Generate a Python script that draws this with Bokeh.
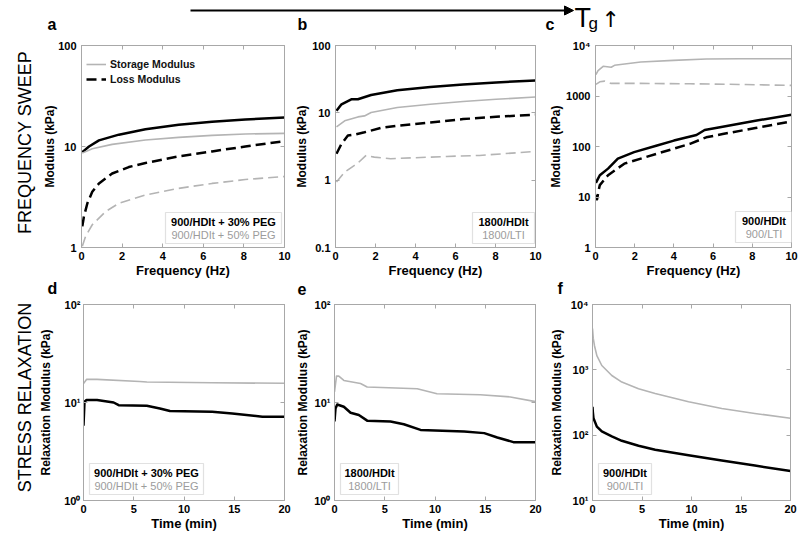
import math
from bokeh.plotting import figure
from bokeh.layouts import row, column
from bokeh.models import (Range1d, FixedTicker, LinearAxis, Legend, LegendItem, Label,
                          BoxAnnotation, Arrow, NormalHead, CustomJSTickFormatter)
from bokeh.embed import file_html
from bokeh.resources import INLINE

# ---------------- data ----------------
# panel a: frequency sweep, 900/HDIt + 30% PEG (black) vs + 50% PEG (gray)
a_storage30_f = [0.04, 0.37, 0.86, 1.84, 3.15, 4.79, 6.43, 8.07, 10]
a_storage30 = [8.8, 10.0, 11.5, 13.1, 14.8, 16.4, 17.6, 18.5, 19.4]
a_storage50_f = [0.04, 0.53, 1.51, 3.15, 4.79, 6.43, 8.07, 10]
a_storage50 = [8.6, 9.5, 10.5, 11.6, 12.3, 12.9, 13.3, 13.5]
a_loss30_f = [0.04, 0.12, 0.29, 0.53, 0.86, 1.51, 2.33, 3.15, 4.79, 6.43, 8.07, 10]
a_loss30 = [1.62, 2.03, 2.74, 3.56, 4.31, 5.40, 6.26, 6.87, 7.99, 8.94, 10.0, 11.3]
a_loss50_f = [0.04, 0.2, 0.53, 1.19, 1.84, 3.15, 4.79, 6.43, 8.07, 10]
a_loss50 = [1.03, 1.29, 1.68, 2.27, 2.74, 3.31, 3.85, 4.31, 4.71, 5.05]

# panel b: 1800/HDIt (black) vs 1800/LTI (gray)
b_storageH_f = [0.05, 0.3, 0.79, 1.12, 1.78, 3.09, 4.74, 6.38, 8.03, 10]
b_storageH = [10.7, 13.4, 15.9, 15.9, 18.4, 21.6, 24.1, 26.4, 28.3, 30.2]
b_storageL_f = [0.05, 0.46, 1.12, 1.45, 1.78, 3.09, 4.74, 6.38, 8.03, 10]
b_storageL = [6.2, 7.6, 8.7, 9.0, 10.1, 12.0, 13.4, 14.7, 15.9, 17.2]
b_lossH_f = [0.05, 0.3, 0.62, 0.95, 1.45, 2.27, 3.09, 4.74, 6.38, 8.03, 10]
b_lossH = [2.47, 3.46, 4.59, 4.75, 5.14, 5.96, 6.44, 7.21, 8.07, 8.73, 9.35]
b_lossL_f = [0.05, 0.46, 0.95, 1.12, 1.53, 1.94, 2.76, 3.91, 5.56, 7.2, 10]
b_lossL = [0.94, 1.32, 1.66, 1.80, 2.33, 2.2, 2.08, 2.15, 2.25, 2.33, 2.67]

# panel c: 900/HDIt (black) vs 900/LTI (gray)
c_storageH_f = [0.02, 0.22, 0.64, 1.14, 1.97, 3.14, 4.0, 5.15, 5.57, 6.49, 8.16, 10]
c_storageH = [19.1, 27, 36.5, 57.3, 77.4, 105, 131, 169, 212, 247, 324, 424]
c_storageL_f = [0.02, 0.13, 0.39, 0.8, 0.97, 2.31, 3.98, 5.65, 7.33, 10]
c_storageL = [2660, 3190, 3870, 3700, 4050, 4710, 5080, 5390, 5480, 5480]
c_lossH_f = [0.02, 0.08, 0.15, 0.22, 0.64, 1.47, 3.14, 4.82, 5.65, 6.49, 8.16, 10]
c_lossH = [11, 9, 13, 17.2, 27, 45.7, 72, 113, 152, 177, 232, 314]
c_lossL_f = [0.02, 0.22, 0.47, 0.8, 2.31, 4.82, 7.33, 10]
c_lossL = [1695, 1910, 1970, 1775, 1775, 1745, 1695, 1620]

# panel d: stress relaxation, 900/HDIt + 30% PEG (black) vs + 50% PEG (gray)
d_30_t = [0.0, 0.1, 0.3, 1.35, 3.0, 3.5, 6.3, 7.6, 8.6, 12.8, 14.8, 17.8, 20]
d_30 = [5.8, 10.2, 10.6, 10.6, 10.0, 9.4, 9.25, 8.7, 8.2, 8.05, 7.74, 7.16, 7.16]
d_50_t = [0.0, 0.3, 1.35, 5.6, 6.3, 12.8, 20]
d_50 = [15.6, 17.2, 17.2, 16.4, 16.2, 15.9, 15.7]

# panel e: 1800/HDIt (black) vs 1800/LTI (gray)
e_H_t = [0.0, 0.1, 0.27, 0.93, 1.6, 2.42, 3.25, 5.57, 6.9, 8.56, 12.9, 14.9, 16.2, 17.8, 20]
e_H = [6.4, 8.7, 9.55, 9.04, 7.87, 7.45, 6.53, 6.4, 6.0, 5.25, 5.06, 4.87, 4.4, 3.94, 3.94]
e_L_t = [0.0, 0.2, 0.43, 0.93, 2.59, 3.25, 8.23, 10.2, 14.5, 17.5, 20]
e_L = [12.8, 18.6, 18.6, 16.8, 15.6, 14.4, 13.8, 12.3, 12.0, 11.4, 10.2]

# panel f: 900/HDIt (black) vs 900/LTI (gray)
f_H_t = [0.0, 0.03, 0.1, 0.44, 0.94, 1.95, 2.96, 4.65, 6.33, 9.7, 13.06, 16.4, 20]
f_H = [272, 230, 181, 135, 114, 95.5, 82, 68.9, 60, 49.2, 40.8, 34.3, 28.2]
f_L_t = [0.0, 0.08, 0.2, 0.44, 0.94, 1.95, 2.96, 4.65, 6.33, 9.7, 13.06, 16.4, 20]
f_L = [4280, 3000, 2340, 1650, 1165, 820, 650, 515, 433, 324, 256, 215, 181]

# tick labels
x_freq_ticks = [0, 2, 4, 6, 8, 10]
x_time_ticks = [0, 5, 10, 15, 20]
a_yticks, a_ylabels = [1, 10, 100], ["1", "10", "100"]
b_yticks, b_ylabels = [0.1, 1, 10, 100], ["0.1", "1", "10", "100"]
c_yticks, c_ylabels = [1, 10, 100, 1000, 10000], ["1", "10", "100", "1000", "10\u2074"]
d_yticks, d_ylabels = [1, 10, 100], ["10\u2070", "10\u00b9", "10\u00b2"]
f_yticks, f_ylabels = [10, 100, 1000, 10000], ["10\u00b9", "10\u00b2", "10\u00b3", "10\u2074"]

# ---------------- styling ----------------
FONT = "Liberation Sans"
BLACK = "#000000"
GRAY = "#b4b4b4"
FRAME = "#a8a8a8"
TXT_GRAY = "#9c9c9c"
DASH = "10 5"
DESC = 0.23  # baseline correction (fraction of font size) for alphabetic labels


def blank_formatter():
    return CustomJSTickFormatter(code="return ''")


def make_panel(width, height, bl, br, bt, bb, x_end, y_rng, xticks, yticks, ylabels,
               xlabel, ylabel, ytick_standoff, ylab_standoff):
    p = figure(width=width, height=height, x_range=Range1d(0, x_end),
               y_range=Range1d(*y_rng), y_axis_type="log",
               output_backend="svg", toolbar_location=None,
               min_border_left=bl, min_border_right=br,
               min_border_top=bt, min_border_bottom=bb)
    p.outline_line_color = FRAME
    p.grid.visible = False
    xa, ya = p.xaxis[0], p.yaxis[0]
    xa.ticker = FixedTicker(ticks=xticks)
    ya.ticker = FixedTicker(ticks=yticks)
    ya.major_label_overrides = {t: l for t, l in zip(yticks, ylabels)}
    for ax in (xa, ya):
        ax.axis_line_color = FRAME
        ax.major_tick_line_color = FRAME
        ax.major_tick_in = 4
        ax.major_tick_out = 0
        ax.minor_tick_line_color = None
        ax.major_label_text_font = FONT
        ax.major_label_text_font_size = "11px"
        ax.major_label_text_font_style = "bold"
        ax.major_label_text_color = BLACK
        ax.axis_label_text_font = FONT
        ax.axis_label_text_font_style = "bold"
        ax.axis_label_text_color = BLACK
    xa.axis_label = xlabel
    xa.axis_label_text_font_size = "13px"
    xa.major_label_standoff = 4
    xa.axis_label_standoff = 0
    ya.axis_label = ylabel
    ya.axis_label_text_font_size = "12px"
    ya.major_label_standoff = ytick_standoff
    ya.axis_label_standoff = ylab_standoff
    # mirrored inward ticks on top and right (MATLAB box style)
    for side, tk in (("above", xticks), ("right", yticks)):
        ax = LinearAxis(ticker=FixedTicker(ticks=tk), formatter=blank_formatter(),
                        axis_line_color=FRAME, major_tick_line_color=FRAME,
                        major_tick_in=4, major_tick_out=0, minor_tick_line_color=None,
                        major_label_text_font_size="0px", major_label_standoff=0)
        p.add_layout(ax, side)
    return p


def draw(p, x, y, color, width, dash="solid"):
    return p.line(x, y, line_color=color, line_width=width, line_dash=dash,
                  line_join="round", line_cap="butt")


def sample_box(p, left, bottom, w, lines, h=31):
    p.add_layout(BoxAnnotation(left=left, right=left + w, bottom=bottom, top=bottom + h,
                               left_units="screen", right_units="screen",
                               top_units="screen", bottom_units="screen",
                               fill_color="white", fill_alpha=1.0,
                               line_color="#9a9a9a", line_width=1.2))
    cx = left + w / 2
    styles = [("bold", BLACK), ("normal", TXT_GRAY)]
    for i, txt in enumerate(lines):
        st, col = styles[i]
        p.add_layout(Label(x=cx, y=bottom + h - 9.5 - 12.5 * i, x_units="screen", y_units="screen",
                           text=txt, text_font=FONT, text_font_size="11px",
                           text_font_style=st, text_color=col,
                           text_align="center", text_baseline="middle"))


def strip(width, height):
    s = figure(width=width, height=height, x_range=Range1d(0, width), y_range=Range1d(0, height),
               output_backend="svg", toolbar_location=None, min_border=0,
               x_axis_location=None, y_axis_location=None, outline_line_color=None)
    s.grid.visible = False
    return s


def strip_text(s, txt, x, baseline_from_top, size, bold=False, font=FONT):
    # place a text whose alphabetic baseline sits baseline_from_top px below the strip top
    y = s.height - baseline_from_top + DESC * size
    s.add_layout(Label(x=x, y=y, text=txt, text_font=font, text_font_size=f"{size}px",
                       text_font_style="bold" if bold else "normal", text_color=BLACK,
                       text_align="left", text_baseline="alphabetic"))


ROW1_H, MID_H, ROW2_H = 245, 17, 236
R1 = dict(bt=10, bb=32)
R2 = dict(bt=7, bb=30)
FR1_H = ROW1_H - R1["bt"] - R1["bb"]

# ---------------- row 1: frequency sweep ----------------
pa = make_panel(256, ROW1_H, 45, 8, R1["bt"], R1["bb"], 10, (1, 100), x_freq_ticks,
                a_yticks, a_ylabels, "Frequency (Hz)", "Modulus (kPa)", 5, -2)
r_a_s30 = draw(pa, a_storage30_f, a_storage30, BLACK, 2.5)
r_a_s50 = draw(pa, a_storage50_f, a_storage50, GRAY, 1.6)
r_a_l30 = draw(pa, a_loss30_f, a_loss30, BLACK, 2.5, DASH)
r_a_l50 = draw(pa, a_loss50_f, a_loss50, GRAY, 1.6, DASH)
leg = Legend(items=[LegendItem(label="Storage Modulus", renderers=[r_a_s50]),
                    LegendItem(label="Loss Modulus", renderers=[r_a_l30])],
             location=(5, FR1_H - 13 - 29), border_line_color=None,
             background_fill_alpha=0.0, padding=0, margin=0, spacing=1,
             glyph_width=20, glyph_height=14, label_height=14, label_standoff=4,
             label_text_font=FONT, label_text_font_size="10.5px",
             label_text_font_style="bold", label_text_color="#111111")
pa.add_layout(leg)
sample_box(pa, 203 - 3 - 116, 4, 116, ["900/HDIt + 30% PEG", "900/HDIt + 50% PEG"])

pb = make_panel(254, ROW1_H, 40, 11, R1["bt"], R1["bb"], 10, (0.1, 100), x_freq_ticks,
                b_yticks, b_ylabels, "Frequency (Hz)", "Modulus (kPa)", 5, 0)
draw(pb, b_storageH_f, b_storageH, BLACK, 2.5)
draw(pb, b_storageL_f, b_storageL, GRAY, 1.6)
draw(pb, b_lossH_f, b_lossH, BLACK, 2.5, DASH)
draw(pb, b_lossL_f, b_lossL, GRAY, 1.6, DASH)
sample_box(pb, 203 - 4 - 62, 4, 62, ["1800/HDIt", "1800/LTI"])

pc = make_panel(252, ROW1_H, 46, 7, R1["bt"], R1["bb"], 10, (1, 10000), x_freq_ticks,
                c_yticks, c_ylabels, "Frequency (Hz)", "Modulus (kPa)", 5, 0)
draw(pc, c_storageL_f, c_storageL, GRAY, 1.6)
draw(pc, c_lossL_f, c_lossL, GRAY, 1.6, DASH)
draw(pc, c_storageH_f, c_storageH, BLACK, 2.5)
draw(pc, c_lossH_f, c_lossH, BLACK, 2.5, DASH)
sample_box(pc, 199 - 2 - 57, 5, 57, ["900/HDIt", "900/LTI"])

# ---------------- middle strip: panel letters d-f ----------------
mid = strip(762, MID_H)
for txt, x in (("d", 11), ("e", 261), ("f", 521)):
    strip_text(mid, txt, x, 12, 16, bold=True)

# ---------------- row 2: stress relaxation ----------------
RLAB = "Relaxation Modulus (kPa)"
pd_ = make_panel(256, ROW2_H, 45, 8, R2["bt"], R2["bb"], 20, (1, 100), x_time_ticks,
                 d_yticks, d_ylabels, "Time (min)", RLAB, 3, 8)
draw(pd_, d_50_t, d_50, GRAY, 1.6)
draw(pd_, d_30_t, d_30, BLACK, 2.5)
sample_box(pd_, 6, 6, 114, ["900/HDIt + 30% PEG", "900/HDIt + 50% PEG"])

pe = make_panel(254, ROW2_H, 42, 11, R2["bt"], R2["bb"], 20, (1, 100), x_time_ticks,
                d_yticks, d_ylabels, "Time (min)", RLAB, 4, 1)
draw(pe, e_L_t, e_L, GRAY, 1.6)
draw(pe, e_H_t, e_H, BLACK, 2.5)
sample_box(pe, 6, 6, 58, ["1800/HDIt", "1800/LTI"])

pf = make_panel(252, ROW2_H, 46, 8, R2["bt"], R2["bb"], 20, (10, 10000), x_time_ticks,
                f_yticks, f_ylabels, "Time (min)", RLAB, 4, 4)
draw(pf, f_L_t, f_L, GRAY, 1.6)
draw(pf, f_H_t, f_H, BLACK, 2.5)
sample_box(pf, 6, 6, 53, ["900/HDIt", "900/LTI"])

# ---------------- top strip: arrow, T_g, panel letters a-c ----------------
TOP_H = 35
top = strip(798, TOP_H)
top.add_layout(Arrow(x_start=190, y_start=TOP_H - 10, x_end=573, y_end=TOP_H - 10,
                     line_color=BLACK, line_width=1.8,
                     end=NormalHead(size=9, fill_color=BLACK, line_color=BLACK)))
strip_text(top, "T", 574, 24, 27)
strip_text(top, "g", 588, 27, 17)
strip_text(top, "\u2191", 601, 24, 22, font="DejaVu Sans")
for txt, x in (("a", 47), ("b", 297), ("c", 545)):
    strip_text(top, txt, x, 28, 16, bold=True)

# ---------------- left strip: row titles ----------------
LEFT_H = ROW1_H + MID_H + ROW2_H
left = strip(36, LEFT_H)
for txt, y in (("FREQUENCY SWEEP", LEFT_H - 107), ("STRESS RELAXATION", LEFT_H - 362)):
    left.add_layout(Label(x=24, y=y, text=txt, angle=math.pi / 2, text_font=FONT,
                          text_font_size="18px", text_color=BLACK,
                          text_align="center", text_baseline="middle"))

grid = column(row(pa, pb, pc), mid, row(pd_, pe, pf))
layout = column(top, row(left, grid))

open("out.html", "w").write(file_html(layout, INLINE))
